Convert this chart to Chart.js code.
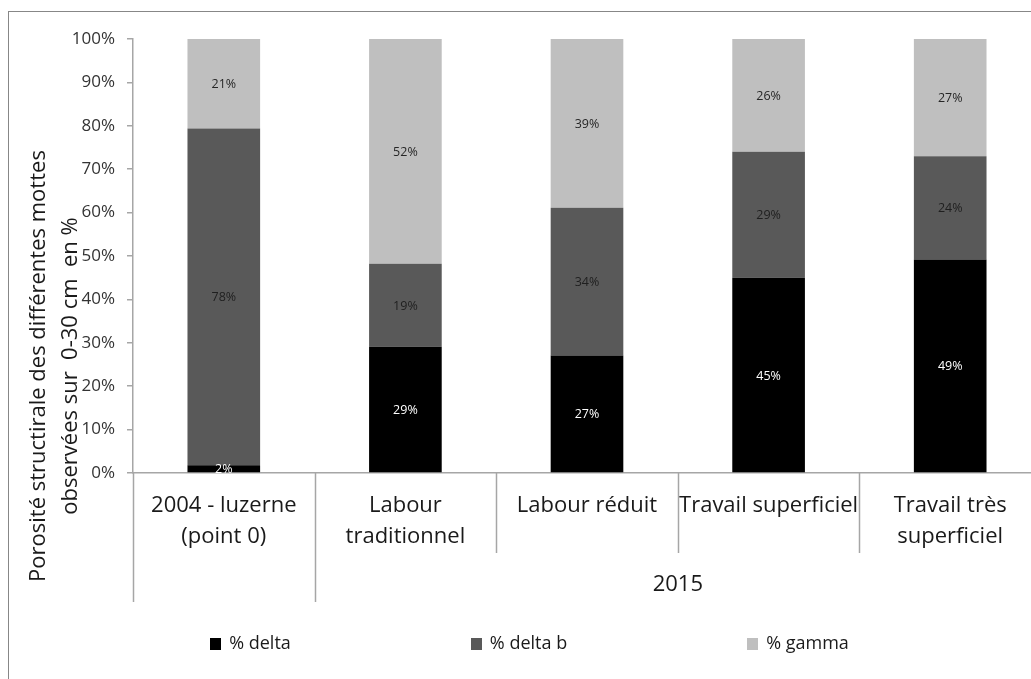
<!DOCTYPE html>
<html><head><meta charset="utf-8">
<script src="https://cdn.jsdelivr.net/npm/chart.js@4.4.0/dist/chart.umd.min.js"></script>
<style>
html,body{margin:0;padding:0;background:#fff;overflow:hidden;width:1031px;height:679px;position:relative;}
#frame{position:absolute;left:8px;top:11px;border-left:1px solid #878787;border-top:1px solid #878787;width:1045px;height:667px;}
canvas{display:block;}
</style></head><body>
<div id="frame"><canvas id="c" width="1045" height="667"></canvas></div>
<script>
// ---- data ----
const categories = [["2004 - luzerne", "(point 0)"], ["Labour", "traditionnel"], ["Labour réduit"], ["Travail superficiel"], ["Travail très", "superficiel"]];
const groupLabel = "2015";
const groupFirstIndex = 1;
const seriesNames = ["% delta", "% delta b", "% gamma"];
const deltaValues = [1.8, 29.1, 27.1, 45.0, 49.2];
const deltaBValues = [77.6, 19.1, 34.0, 29.0, 23.8];
const gammaValues = [20.6, 51.8, 38.9, 26.0, 27.0];
const yTickValues = [0, 10, 20, 30, 40, 50, 60, 70, 80, 90, 100];
const yTitleLines = ["Porosité structirale des différentes mottes", "observées sur  0-30 cm  en %"];

// ---- styles ----
const seriesColors = ["#000000", "#595959", "#bfbfbf"];
const valueLabelColors = ["#ffffff", "#1f1f1f", "#262626"];
const FONT = "'Open Sans', 'DejaVu Sans', sans-serif";
const axisGray = "#a6a6a6";

const yTitlePlugin = {
  id: 'yTitle',
  afterDraw(chart) {
    const ctx = chart.ctx;
    ctx.save();
    ctx.translate(45.5, 354);
    ctx.rotate(-Math.PI / 2);
    ctx.font = "22px " + FONT;
    ctx.fillStyle = "#1a1a1a";
    ctx.textAlign = "center";
    ctx.textBaseline = "middle";
    ctx.fillText(yTitleLines[0], 0, -16);
    ctx.fillText(yTitleLines[1], 0, 16);
    ctx.restore();
  }
};

const groupAxisPlugin = {
  id: 'groupAxis',
  afterDraw(chart) {
    const ctx = chart.ctx;
    const xs = chart.scales.x;
    const ca = chart.chartArea;
    const n = categories.length;
    const bounds = [];
    for (let i = 0; i <= n; i++) {
      if (i === 0) bounds.push(ca.left);
      else if (i === n) bounds.push(ca.right);
      else bounds.push((xs.getPixelForValue(i - 1) + xs.getPixelForValue(i)) / 2);
    }
    ctx.save();
    ctx.strokeStyle = axisGray;
    ctx.lineWidth = 1.5;
    for (let i = 0; i < n; i++) {
      const long = (i === 0 || i === groupFirstIndex);
      const x = Math.round(bounds[i]) + 0.5;
      ctx.beginPath();
      ctx.moveTo(x, ca.bottom);
      ctx.lineTo(x, ca.bottom + (long ? 129 : 80));
      ctx.stroke();
    }
    ctx.font = "22px " + FONT;
    ctx.fillStyle = "#1a1a1a";
    ctx.textAlign = "center";
    ctx.textBaseline = "middle";
    ctx.fillText(groupLabel, (bounds[groupFirstIndex] + bounds[n]) / 2, ca.bottom + 112);
    ctx.restore();
  }
};

const valueLabelPlugin = {
  id: 'valueLabels',
  afterDatasetsDraw(chart) {
    const ctx = chart.ctx;
    ctx.save();
    ctx.font = "12.5px " + FONT;
    ctx.textAlign = "center";
    ctx.textBaseline = "middle";
    chart.data.datasets.forEach((ds, di) => {
      const meta = chart.getDatasetMeta(di);
      meta.data.forEach((el, i) => {
        const v = ds.data[i];
        ctx.fillStyle = valueLabelColors[di];
        ctx.fillText(Math.round(v) + "%", el.x, (el.y + el.base) / 2 + 1);
      });
    });
    ctx.restore();
  }
};

const legendPlugin = {
  id: 'bottomLegend',
  afterDraw(chart) {
    const ctx = chart.ctx;
    ctx.save();
    ctx.font = "18px " + FONT;
    ctx.textBaseline = "middle";
    ctx.textAlign = "left";
    const box = 11, gapText = 8, gapItems = 180;
    const widths = chart.data.datasets.map(ds => box + gapText + ctx.measureText(ds.label).width);
    const total = widths.reduce((a, b) => a + b, 0) + gapItems * (widths.length - 1);
    let x = chart.width / 2 - 2 - total / 2;
    const yc = 632;
    chart.data.datasets.forEach((ds, i) => {
      ctx.fillStyle = ds.backgroundColor;
      ctx.fillRect(Math.round(x), yc - 6, box, 12);
      ctx.fillStyle = "#1a1a1a";
      ctx.fillText(ds.label, x + box + gapText, yc);
      x += widths[i] + gapItems;
    });
    ctx.restore();
  }
};

new Chart(document.getElementById('c'), {
  type: 'bar',
  data: {
    labels: categories,
    datasets: [
      { label: seriesNames[0], data: deltaValues, backgroundColor: seriesColors[0] },
      { label: seriesNames[1], data: deltaBValues, backgroundColor: seriesColors[1] },
      { label: seriesNames[2], data: gammaValues, backgroundColor: seriesColors[2] }
    ]
  },
  options: {
    responsive: false,
    animation: false,
    devicePixelRatio: 1,
    layout: { padding: { top: 27, right: 13, left: 0, bottom: 0 } },
    datasets: { bar: { barPercentage: 0.4, categoryPercentage: 1.0 } },
    plugins: { legend: { display: false }, tooltip: { enabled: false }, title: { display: false } },
    scales: {
      x: {
        stacked: true,
        grid: { display: false, drawTicks: false },
        border: { display: true, color: axisGray, width: 1.5 },
        ticks: { color: "#1a1a1a", font: { family: FONT, size: 22, lineHeight: 1.41 }, padding: 17.5, maxRotation: 0, autoSkip: false },
        afterFit(s) { s.height = 206; }
      },
      y: {
        stacked: true,
        min: 0, max: 100,
        afterBuildTicks(s) { s.ticks = yTickValues.map(v => ({ value: v })); },
        grid: { display: true, drawOnChartArea: false, drawTicks: true, tickLength: 6, color: axisGray, lineWidth: 1.5 },
        border: { display: true, color: axisGray, width: 1.5 },
        ticks: { color: "#333333", font: { family: FONT, size: 17 }, padding: 12, callback: v => v + "%" },
        afterFit(s) { s.width = 124; }
      }
    }
  },
  plugins: [yTitlePlugin, groupAxisPlugin, valueLabelPlugin, legendPlugin]
});
</script>
</body></html>
